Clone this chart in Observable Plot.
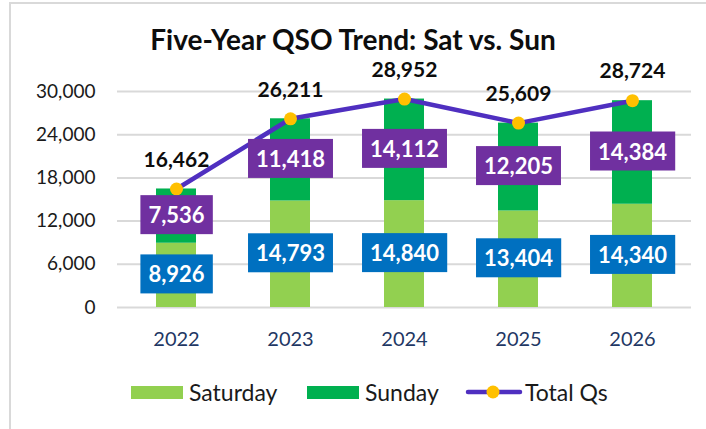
<!DOCTYPE html>
<html>
<head>
<meta charset="utf-8">
<script src="https://cdn.jsdelivr.net/npm/d3@7"></script>
<script src="https://cdn.jsdelivr.net/npm/@observablehq/plot@0.6"></script>
<style>
  html, body { margin: 0; padding: 0; background: #fff; }
  body { width: 706px; height: 429px; position: relative; overflow: hidden; font-family: Lato, "Open Sans", sans-serif; }
  #frame { position: absolute; left: 9px; top: 2px; width: 697px; height: 427px; border-left: 2px solid #d9d9d9; border-top: 2px solid #d9d9d9; box-sizing: border-box; }
  #title { position: absolute; left: 0; top: 24px; width: 706px; text-align: center; font-size: 28px; font-weight: bold; line-height: 30px; color: #0d0d0d; }
  #chart { position: absolute; left: 0; top: 60px; }
  #legend { position: absolute; left: 0; top: 378px; width: 706px; height: 28px; }
  .item { position: absolute; top: 0; height: 28px; display: flex; align-items: center; font-size: 23px; color: #1a1a1a; }
  .sw { width: 52px; height: 13px; margin-right: 6px; }
</style>
</head>
<body>
<div id="frame"></div>
<div id="title">Five-Year QSO Trend: Sat vs. Sun</div>
<div id="chart"></div>
<div id="legend"></div>
<script>
const years = ["2022", "2023", "2024", "2025", "2026"];
const saturday = [8926, 14793, 14840, 13404, 14340];
const sunday = [7536, 11418, 14112, 12205, 14384];
const totals = [16462, 26211, 28952, 25609, 28724];
const yTicks = [0, 6000, 12000, 18000, 24000, 30000];
const seriesNames = ["Saturday", "Sunday", "Total Qs"];

const colors = {sat: "#92D050", sun: "#00B050", line: "#4F2FC0", marker: "#FFC000", satBox: "#0070C0", sunBox: "#7030A0"};

const rows = years.map((y, i) => ({year: y, sat: saturday[i], sun: sunday[i], total: totals[i]}));
const fmt = d3.format(",");

const plot = Plot.plot({
  width: 706,
  height: 305,
  marginLeft: 117,
  marginRight: 15,
  marginTop: 31,
  marginBottom: 58,
  style: {fontFamily: "Lato, 'Open Sans', sans-serif", background: "transparent", overflow: "visible"},
  x: {domain: years, paddingInner: 0.65, paddingOuter: 0.325, label: null},
  y: {domain: [0, 30000], label: null},
  marks: [
    Plot.gridY(yTicks, {stroke: "#d9d9d9", strokeOpacity: 1, strokeWidth: 2}),
    Plot.axisY({ticks: yTicks, tickFormat: fmt, tickSize: 0, tickPadding: 22, fontSize: 19, fill: "#1a1a1a", label: null}),
    Plot.axisX({tickSize: 0, tickPadding: 24, fontSize: 20, fill: "#1F3864", label: null}),
    Plot.barY(rows, {x: "year", y1: 0, y2: "sat", fill: colors.sat}),
    Plot.barY(rows, {x: "year", y1: "sat", y2: d => d.sat + d.sun, fill: colors.sun}),
    Plot.line(rows, {x: "year", y: "total", stroke: colors.line, strokeWidth: 4.5, strokeLinejoin: "round", strokeLinecap: "round"}),
    Plot.dot(rows, {x: "year", y: "total", r: 6.5, fill: colors.marker, stroke: "none"}),
    Plot.text(rows, {x: "year", y: d => d.sat / 2, text: d => fmt(d.sat), fill: "white", fontSize: 22, fontWeight: "bold"}),
    Plot.text(rows, {x: "year", y: d => d.sat + d.sun / 2, text: d => fmt(d.sun), fill: "white", fontSize: 22, fontWeight: "bold"}),
    Plot.text(rows, {x: "year", y: "total", dy: -29, text: d => fmt(d.total), fill: "#0d0d0d", fontSize: 21, fontWeight: "bold"})
  ]
});
document.getElementById("chart").appendChild(plot);

// Put a filled box behind each data label (positions come from Plot's own text layout)
const satSet = new Set(saturday.map(fmt));
const sunSet = new Set(sunday.map(fmt));
const ns = "http://www.w3.org/2000/svg";
Array.from(plot.querySelectorAll("text")).forEach(t => {
  const s = t.textContent.trim();
  let color = null;
  if (satSet.has(s)) color = colors.satBox;
  else if (sunSet.has(s)) color = colors.sunBox;
  if (!color) return;
  const b = t.getBBox();
  const padX = 8, padY = 6;
  const r = document.createElementNS(ns, "rect");
  r.setAttribute("x", b.x - padX);
  r.setAttribute("y", b.y - padY);
  r.setAttribute("width", b.width + 2 * padX);
  r.setAttribute("height", b.height + 2 * padY);
  r.setAttribute("fill", color);
  const tr = t.getAttribute("transform");
  if (tr) r.setAttribute("transform", tr);
  t.parentNode.insertBefore(r, t);
});

// Legend
const legend = document.getElementById("legend");
const items = [
  {name: seriesNames[0], left: 131, kind: "bar", color: colors.sat},
  {name: seriesNames[1], left: 307, kind: "bar", color: colors.sun},
  {name: seriesNames[2], left: 465, kind: "line"}
];
items.forEach(it => {
  const d = document.createElement("div");
  d.className = "item";
  d.style.left = it.left + "px";
  if (it.kind === "bar") {
    const s = document.createElement("div");
    s.className = "sw";
    s.style.background = it.color;
    d.appendChild(s);
  } else {
    const s = document.createElementNS(ns, "svg");
    s.setAttribute("width", 58); s.setAttribute("height", 16);
    s.style.marginRight = "2px";
    const l = document.createElementNS(ns, "line");
    l.setAttribute("x1", 3); l.setAttribute("x2", 55); l.setAttribute("y1", 8); l.setAttribute("y2", 8);
    l.setAttribute("stroke", colors.line); l.setAttribute("stroke-width", 4.5); l.setAttribute("stroke-linecap", "round");
    const c = document.createElementNS(ns, "circle");
    c.setAttribute("cx", 28); c.setAttribute("cy", 8); c.setAttribute("r", 6.5); c.setAttribute("fill", colors.marker);
    s.appendChild(l); s.appendChild(c);
    d.appendChild(s);
  }
  const t = document.createElement("span");
  t.textContent = it.name;
  d.appendChild(t);
  legend.appendChild(d);
});
</script>
</body>
</html>
